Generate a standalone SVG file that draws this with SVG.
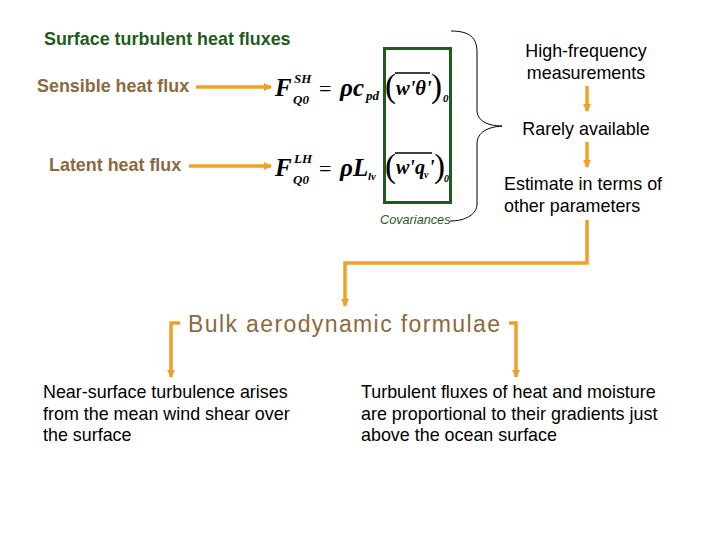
<svg xmlns="http://www.w3.org/2000/svg" width="720" height="540" viewBox="0 0 720 540">
<defs>
<marker id="ah" markerWidth="8" markerHeight="8" refX="7" refY="4" orient="auto" markerUnits="userSpaceOnUse">
<path d="M0,0 L8,4 L0,8 Z" fill="#f0a028"/>
</marker>
</defs>
<style>
.sans{font-family:"Liberation Sans",Arial,sans-serif}
.t16{font-size:17.9px;fill:#000}
.brown{fill:#8a6a3e;font-weight:bold;font-size:17.9px}
.eq{font-family:"Liberation Serif","Times New Roman",serif;font-style:italic;font-weight:bold;fill:#000}
.par{font-style:normal;font-weight:normal;font-size:33px}
.conn{stroke:#f0a028;stroke-width:3.5;fill:none}
</style>
<rect width="720" height="540" fill="#fff"/>
<g id="title"><text class="sans" x="44" y="45" font-size="17.9" font-weight="bold" fill="#1e5c1e">Surface turbulent heat fluxes</text></g>
<g id="sensible"><text class="sans brown" x="37" y="92">Sensible heat flux</text></g>
<g id="latent"><text class="sans brown" x="49" y="171">Latent heat flux</text></g>
<g id="eq-sh">
<text class="eq" x="275" y="96" font-size="25">F<tspan x="294" y="83" font-size="13">SH</tspan><tspan x="293" y="104" font-size="13">Q0</tspan><tspan x="319" y="96" font-size="22" font-style="normal" font-weight="normal">=</tspan><tspan x="340" y="96">ρc</tspan><tspan x="366" y="100" font-size="13">pd</tspan><tspan class="par" x="385" y="97">(</tspan><tspan x="396" y="95" font-size="20.5">w'θ'</tspan><tspan class="par" x="431" y="97">)</tspan><tspan x="443" y="102" font-size="11">0</tspan></text>
<line x1="395" y1="73" x2="430" y2="73" stroke="#000" stroke-width="1.5"/>
</g>
<g id="eq-lh">
<text class="eq" x="275" y="176" font-size="25">F<tspan x="294" y="163" font-size="13">LH</tspan><tspan x="293" y="184" font-size="13">Q0</tspan><tspan x="319" y="176" font-size="22" font-style="normal" font-weight="normal">=</tspan><tspan x="340" y="176">ρL</tspan><tspan x="368" y="180" font-size="11">lv</tspan><tspan class="par" x="385" y="177">(</tspan><tspan x="396" y="174" font-size="20">w'q</tspan><tspan x="424" y="178" font-size="10">v</tspan><tspan x="429" y="174" font-size="20">'</tspan><tspan class="par" x="434" y="177">)</tspan><tspan x="444" y="182" font-size="10">0</tspan></text>
<line x1="395" y1="153" x2="432" y2="153" stroke="#000" stroke-width="1.5"/>
</g>
<g id="cov-box"><rect x="384.5" y="48.5" width="66" height="154" fill="none" stroke="#1e5c1e" stroke-width="3"/></g>
<g id="covariances"><text class="sans" x="380" y="224" font-size="12.7" font-style="italic" fill="#1e5c1e">Covariances</text></g>
<g id="brace"><path d="M451,31 C470,31 477,38 477,52 L477,110 C477,121 488,126 502,126 C488,127 477,132 477,144 L477,204 C477,214 466,221 450,221" fill="none" stroke="#000" stroke-width="1"/></g>
<g id="high-freq"><text class="sans t16" x="586" y="57" text-anchor="middle">High-frequency</text><text class="sans t16" x="586" y="79" text-anchor="middle">measurements</text></g>
<g id="rarely"><text class="sans t16" x="586" y="135" text-anchor="middle">Rarely available</text></g>
<g id="estimate"><text class="sans t16" x="504" y="190">Estimate in terms of</text><text class="sans t16" x="504" y="212">other parameters</text></g>
<g id="bulk"><text class="sans" x="188" y="332" font-size="23" fill="#8a6a3e" textLength="312" lengthAdjust="spacing">Bulk aerodynamic formulae</text></g>
<g id="near"><text class="sans t16" x="43" y="398">Near-surface turbulence arises</text><text class="sans t16" x="43" y="420">from the mean wind shear over</text><text class="sans t16" x="43" y="441">the surface</text></g>
<g id="turb"><text class="sans t16" x="361" y="398">Turbulent fluxes of heat and moisture</text><text class="sans t16" x="361" y="420">are proportional to their gradients just</text><text class="sans t16" x="361" y="441">above the ocean surface</text></g>
<g id="connectors">
<line class="conn" x1="196" y1="87" x2="271" y2="87" marker-end="url(#ah)"/>
<line class="conn" x1="189" y1="166" x2="271" y2="166" marker-end="url(#ah)"/>
<line class="conn" x1="587" y1="86" x2="587" y2="111" marker-end="url(#ah)"/>
<line class="conn" x1="587" y1="142" x2="587" y2="167" marker-end="url(#ah)"/>
<polyline class="conn" points="587,220 587,263 345,263 345,306" marker-end="url(#ah)"/>
<polyline class="conn" points="180,323 171,323 171,377" marker-end="url(#ah)"/>
<polyline class="conn" points="509,323 516,323 516,377" marker-end="url(#ah)"/>
</g>
</svg>
